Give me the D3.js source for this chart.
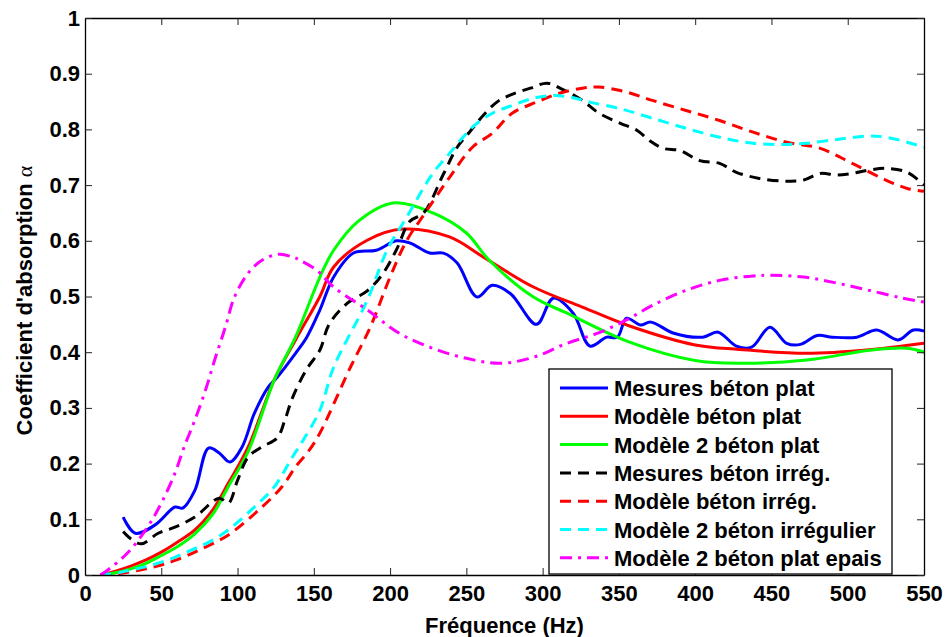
<!DOCTYPE html>
<html>
<head>
<meta charset="utf-8">
<script src="https://cdn.jsdelivr.net/npm/d3@7"></script>
<style>
  body { margin: 0; background: #fff; }
  text { font-family: "Liberation Sans", Arial, sans-serif; font-weight: bold; }
</style>
</head>
<body>
<svg id="chart" width="946" height="637"></svg>
<script>
// valeurs (fréquence en Hz, coefficient d'absorption)
const xTicks = [0, 50, 100, 150, 200, 250, 300, 350, 400, 450, 500, 550];
const yTicks = [0, 0.1, 0.2, 0.3, 0.4, 0.5, 0.6, 0.7, 0.8, 0.9, 1];
const yTickLabels = ["0", "0.1", "0.2", "0.3", "0.4", "0.5", "0.6", "0.7", "0.8", "0.9", "1"];

const seriesNames = [
  "Mesures béton plat",
  "Modèle béton plat",
  "Modèle 2 béton plat",
  "Mesures béton irrég.",
  "Modèle béton irrég.",
  "Modèle 2 béton irrégulier",
  "Modèle 2 béton plat epais"
];

const mesPlatF = [25, 33, 46, 59, 64, 72, 81, 88, 95, 103, 111, 120, 126, 138, 145, 154, 163, 176, 191, 204, 213, 226, 235, 244, 257, 267, 279, 296, 307, 320, 331, 342, 349, 355, 364, 371, 386, 405, 415, 427, 437, 449, 460, 469, 480, 490, 506, 519, 533, 543, 550];
const mesPlatA = [0.104, 0.075, 0.09, 0.122, 0.12, 0.152, 0.228, 0.219, 0.203, 0.23, 0.29, 0.337, 0.355, 0.398, 0.425, 0.476, 0.535, 0.578, 0.583, 0.6, 0.596, 0.578, 0.578, 0.56, 0.499, 0.52, 0.505, 0.45, 0.497, 0.47, 0.411, 0.427, 0.427, 0.461, 0.449, 0.454, 0.434, 0.427, 0.436, 0.411, 0.409, 0.445, 0.416, 0.414, 0.43, 0.427, 0.427, 0.44, 0.422, 0.44, 0.438];

const modPlatF = [10, 20, 30, 40, 50, 60, 72, 84, 94, 107, 124, 138, 154, 163, 185, 208, 239, 261, 294, 326, 357, 400, 429, 473, 516, 550];
const modPlatA = [0, 0.007, 0.016, 0.027, 0.041, 0.058, 0.081, 0.118, 0.165, 0.23, 0.35, 0.422, 0.5, 0.553, 0.601, 0.621, 0.607, 0.571, 0.517, 0.481, 0.447, 0.413, 0.405, 0.398, 0.405, 0.416];

const mod2PlatF = [10, 20, 30, 40, 50, 60, 72, 84, 94, 107, 124, 138, 154, 163, 180, 202, 228, 250, 265, 294, 316, 357, 400, 429, 473, 516, 539, 550];
const mod2PlatA = [0, 0.004, 0.011, 0.021, 0.035, 0.05, 0.074, 0.11, 0.159, 0.222, 0.35, 0.427, 0.535, 0.583, 0.637, 0.668, 0.65, 0.614, 0.565, 0.499, 0.47, 0.418, 0.385, 0.38, 0.386, 0.404, 0.407, 0.40];

const mesIrrF = [25, 30, 37, 48, 59, 72, 88, 94, 100, 107, 116, 126, 131, 136, 145, 154, 160, 172, 185, 195, 204, 213, 222, 235, 244, 252, 261, 270, 280, 292, 303, 313, 326, 337, 351, 362, 370, 379, 390, 403, 416, 427, 442, 460, 471, 482, 493, 503, 514, 525, 539, 550];
const mesIrrA = [0.078, 0.065, 0.056, 0.075, 0.086, 0.104, 0.138, 0.129, 0.17, 0.212, 0.23, 0.246, 0.278, 0.318, 0.368, 0.404, 0.45, 0.488, 0.51, 0.54, 0.583, 0.635, 0.65, 0.72, 0.768, 0.795, 0.825, 0.849, 0.863, 0.874, 0.883, 0.872, 0.852, 0.829, 0.811, 0.798, 0.78, 0.766, 0.762, 0.744, 0.739, 0.723, 0.712, 0.707, 0.709, 0.721, 0.718, 0.721, 0.727, 0.73, 0.723, 0.70];

const modIrrF = [10, 20, 30, 40, 50, 60, 75, 94, 116, 129, 138, 147, 154, 174, 187, 200, 211, 223, 239, 254, 267, 280, 296, 311, 326, 337, 355, 372, 394, 416, 438, 460, 482, 503, 525, 539, 550];
const modIrrA = [0, 0.002, 0.006, 0.011, 0.018, 0.027, 0.045, 0.072, 0.122, 0.158, 0.194, 0.224, 0.255, 0.373, 0.445, 0.535, 0.601, 0.65, 0.714, 0.768, 0.793, 0.829, 0.849, 0.865, 0.874, 0.876, 0.867, 0.852, 0.834, 0.816, 0.795, 0.777, 0.766, 0.739, 0.709, 0.694, 0.689];

const mod2IrrF = [10, 20, 30, 40, 50, 60, 70, 82, 94, 111, 124, 136, 143, 154, 163, 185, 198, 211, 228, 239, 254, 267, 280, 294, 307, 318, 331, 351, 372, 394, 416, 438, 460, 473, 493, 514, 525, 539, 550];
const mod2IrrA = [0, 0.003, 0.009, 0.015, 0.023, 0.033, 0.045, 0.06, 0.081, 0.122, 0.158, 0.212, 0.242, 0.296, 0.373, 0.493, 0.583, 0.643, 0.721, 0.757, 0.804, 0.829, 0.843, 0.856, 0.861, 0.858, 0.849, 0.837, 0.82, 0.802, 0.786, 0.775, 0.773, 0.775, 0.782, 0.788, 0.786, 0.777, 0.768];

const mod2EpaisF = [10, 13, 28, 41, 50, 59, 65, 72, 79, 85, 92, 98, 107, 116, 127, 136, 141, 152, 163, 185, 206, 228, 250, 272, 294, 316, 337, 355, 372, 394, 416, 438, 449, 471, 493, 514, 536, 550];
const mod2EpaisA = [0, 0.005, 0.04, 0.086, 0.129, 0.183, 0.23, 0.278, 0.332, 0.386, 0.445, 0.499, 0.542, 0.565, 0.576, 0.571, 0.565, 0.547, 0.517, 0.476, 0.434, 0.407, 0.389, 0.38, 0.391, 0.416, 0.435, 0.458, 0.484, 0.511, 0.529, 0.537, 0.538, 0.535, 0.524, 0.511, 0.497, 0.49];

const styles = [
  { color: "#0000ff", dash: null },
  { color: "#ff0000", dash: null },
  { color: "#00ff00", dash: null },
  { color: "#000000", dash: "11,7" },
  { color: "#ff0000", dash: "11,7" },
  { color: "#00ffff", dash: "11,7" },
  { color: "#ff00ff", dash: "12,6,3,6" }
];

const series = [
  [mesPlatF, mesPlatA], [modPlatF, modPlatA], [mod2PlatF, mod2PlatA],
  [mesIrrF, mesIrrA], [modIrrF, modIrrA], [mod2IrrF, mod2IrrA], [mod2EpaisF, mod2EpaisA]
];

const svg = d3.select("#chart");
const margin = { top: 18, right: 22, bottom: 62, left: 85 };
const width = +svg.attr("width") - margin.left - margin.right;
const height = +svg.attr("height") - margin.top - margin.bottom;

const g = svg.append("g").attr("transform", `translate(${margin.left},${margin.top})`);
const x = d3.scaleLinear().domain([0, 550]).range([0, width]);
const y = d3.scaleLinear().domain([0, 1]).range([height, 0]);

// courbes
const line = d3.line().x(d => x(d[0])).y(d => y(d[1])).curve(d3.curveCatmullRom.alpha(0.5));
g.append("defs").append("clipPath").attr("id", "clip")
  .append("rect").attr("width", width).attr("height", height);

series.forEach((s, i) => {
  const pts = s[0].map((f, j) => [f, s[1][j]]);
  g.append("path")
    .datum(pts)
    .attr("clip-path", "url(#clip)")
    .attr("fill", "none")
    .attr("stroke", styles[i].color)
    .attr("stroke-width", 3)
    .attr("stroke-dasharray", styles[i].dash)
    .attr("d", line);
});

// axes (ticks vers l'intérieur, sur les quatre côtés)
const tickLen = 7;
const axisB = g.append("g").attr("transform", `translate(0,${height})`)
  .call(d3.axisBottom(x).tickValues(xTicks).tickSizeInner(-tickLen).tickSizeOuter(0).tickPadding(10));
const axisT = g.append("g")
  .call(d3.axisTop(x).tickValues(xTicks).tickSizeInner(-tickLen).tickSizeOuter(0).tickFormat(""));
const axisL = g.append("g")
  .call(d3.axisLeft(y).tickValues(yTicks).tickSizeInner(-tickLen).tickSizeOuter(0).tickPadding(5)
    .tickFormat((d, i) => yTickLabels[i]));
const axisR = g.append("g").attr("transform", `translate(${width},0)`)
  .call(d3.axisRight(y).tickValues(yTicks).tickSizeInner(-tickLen).tickSizeOuter(0).tickFormat(""));

[axisB, axisT, axisL, axisR].forEach(a => {
  a.select(".domain").attr("stroke", "#000").attr("stroke-width", 1.3);
  a.selectAll(".tick line").attr("stroke", "#222").attr("stroke-width", 1);
  a.selectAll("text").attr("font-size", 22).attr("fill", "#000")
    .style("font-family", "'Liberation Sans', Arial, sans-serif").style("font-weight", "bold");
});
axisB.selectAll(".tick text").attr("dy", "0.71em");

// titres des axes
svg.append("text")
  .attr("x", margin.left + width / 2)
  .attr("y", 633)
  .attr("text-anchor", "middle")
  .attr("font-size", 22)
  .text("Fréquence (Hz)");

const yl = svg.append("text")
  .attr("transform", `translate(32,${margin.top + height / 2 + 4}) rotate(-90)`)
  .attr("text-anchor", "middle")
  .attr("font-size", 22);
yl.append("tspan").text("Coefficient d'absorption  ");
yl.append("tspan").style("font-family", "'Liberation Serif', serif").style("font-weight", "normal").text("α");

// légende
const lg = svg.append("g");
lg.append("rect")
  .attr("x", 549).attr("y", 369).attr("width", 343).attr("height", 205)
  .attr("fill", "#fff").attr("stroke", "#000").attr("stroke-width", 1.3);
seriesNames.forEach((name, i) => {
  const cy = 388 + i * 28.3;
  lg.append("line")
    .attr("x1", 560).attr("x2", 608).attr("y1", cy).attr("y2", cy)
    .attr("stroke", styles[i].color).attr("stroke-width", 3)
    .attr("stroke-dasharray", styles[i].dash);
  lg.append("text")
    .attr("x", 614).attr("y", cy + 8)
    .attr("font-size", 22)
    .text(name);
});
</script>
</body>
</html>
